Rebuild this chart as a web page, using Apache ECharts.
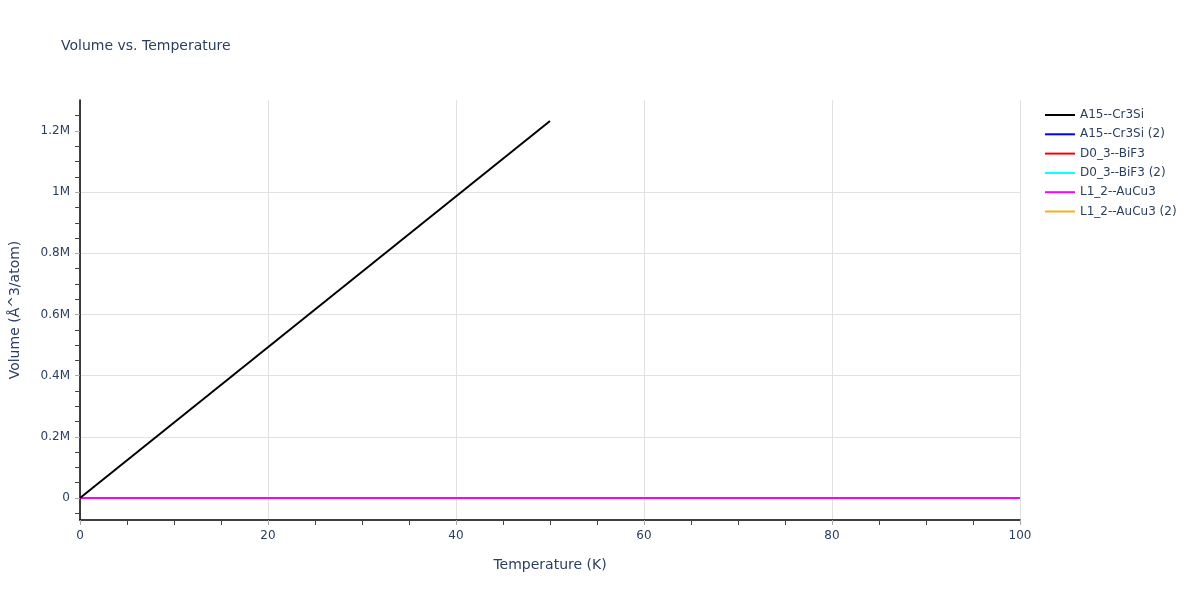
<!DOCTYPE html>
<html>
<head>
<meta charset="utf-8">
<script src="https://cdn.jsdelivr.net/npm/echarts@6/dist/echarts.min.js"></script>
<style>html,body{margin:0;padding:0;background:#fff}#c{width:1200px;height:600px}</style>
</head>
<body>
<div id="c"></div>
<script>
const seriesNames = ["A15--Cr3Si", "A15--Cr3Si (2)", "D0_3--BiF3", "D0_3--BiF3 (2)", "L1_2--AuCu3", "L1_2--AuCu3 (2)"];
const seriesColors = ["#000000", "#0000ff", "#ff0000", "#00ffff", "#ff00ff", "#f0b21e"];
const tempA15 = [0, 50];
const volA15 = [0, 1233000];
const tempOthers = [0, 100];
const volA15b = [11.6, 11.8];
const volD03 = [15.2, 15.5];
const volD03b = [15.3, 15.6];
const volL12 = [13.9, 14.2];
const volL12b = [14.0, 14.3];
const xTicks = [0, 20, 40, 60, 80, 100];
const yTicks = [0, 200000, 400000, 600000, 800000, 1000000, 1200000];
const yMinorTicks = [-50000, 50000, 100000, 150000, 250000, 300000, 350000, 450000, 500000, 550000, 650000, 700000, 750000, 850000, 900000, 950000, 1050000, 1100000, 1150000, 1250000];

const pairs = (xs, ys) => xs.map((x, i) => [x, ys[i]]);
const allData = [
  pairs(tempA15, volA15),
  pairs(tempOthers, volA15b),
  pairs(tempOthers, volD03),
  pairs(tempOthers, volD03b),
  pairs(tempOthers, volL12),
  pairs(tempOthers, volL12b)
];
const zOrder = [6, 2, 2, 2, 5, 1];

const font = '"DejaVu Sans", Verdana, sans-serif';
const txt = '#2a3f5f';
const chart = echarts.init(document.getElementById('c'));
const fmtY = v => v === 0 ? '0' : (v / 1e6) + 'M';

chart.setOption({
  animation: false,
  backgroundColor: '#fff',
  title: {
    text: 'Volume vs. Temperature',
    left: 56, top: 34,
    textStyle: { fontFamily: font, fontSize: 14, fontWeight: 'normal', color: txt }
  },
  legend: {
    orient: 'vertical',
    left: 1040, top: 104,
    itemWidth: 30, itemHeight: 2, itemGap: 7.3,
    icon: 'rect',
    textStyle: { fontFamily: font, fontSize: 12, color: txt },
    data: seriesNames
  },
  grid: { left: 80, right: 180, top: 100, bottom: 80, containLabel: false, outerBoundsMode: 'none' },
  xAxis: {
    type: 'value',
    min: 0, max: 100, interval: 20,
    name: 'Temperature (K)',
    nameLocation: 'middle', nameGap: 38,
    nameTextStyle: { fontFamily: font, fontSize: 14, color: txt },
    axisLine: { show: true, onZero: false, lineStyle: { color: '#000', width: 1.5 } },
    axisTick: { show: true, length: 5, lineStyle: { color: '#aaa' } },
    minorTick: { show: true, splitNumber: 4, length: 5, lineStyle: { color: '#444' } },
    axisLabel: { fontFamily: font, fontSize: 12, color: txt, margin: 10,
      customValues: xTicks },
    splitLine: { show: true, lineStyle: { color: '#e1e1e1', width: 1 } }
  },
  yAxis: [{
    type: 'value',
    min: -72000, max: 1301500, splitNumber: 7,
    name: 'Volume (Å^3/atom)',
    nameLocation: 'middle', nameGap: 58,
    nameTextStyle: { fontFamily: font, fontSize: 14, color: txt },
    axisLine: { show: false },
    axisTick: { show: true, length: 5, lineStyle: { color: '#aaa' }, customValues: yTicks },
    axisLabel: { fontFamily: font, fontSize: 12, color: txt, margin: 10, formatter: fmtY,
      customValues: yTicks },
    splitLine: { show: true, showMinLine: false, showMaxLine: false, lineStyle: { color: '#e1e1e1', width: 1 } }
  }, {
    type: 'value',
    position: 'left',
    min: -72000, max: 1301500,
    axisLine: { show: true, onZero: false, lineStyle: { color: '#000', width: 1.5 } },
    axisTick: { show: true, length: 5, lineStyle: { color: '#444' }, customValues: yMinorTicks },
    axisLabel: { show: false },
    splitLine: { show: false }
  }],
  series: seriesNames.map((n, i) => ({
    name: n,
    type: 'line',
    data: allData[i],
    yAxisIndex: 0,
    showSymbol: false,
    symbol: 'none',
    z: zOrder[i],
    color: seriesColors[i],
    lineStyle: { color: seriesColors[i], width: 2 }
  }))
});
</script>
</body>
</html>
